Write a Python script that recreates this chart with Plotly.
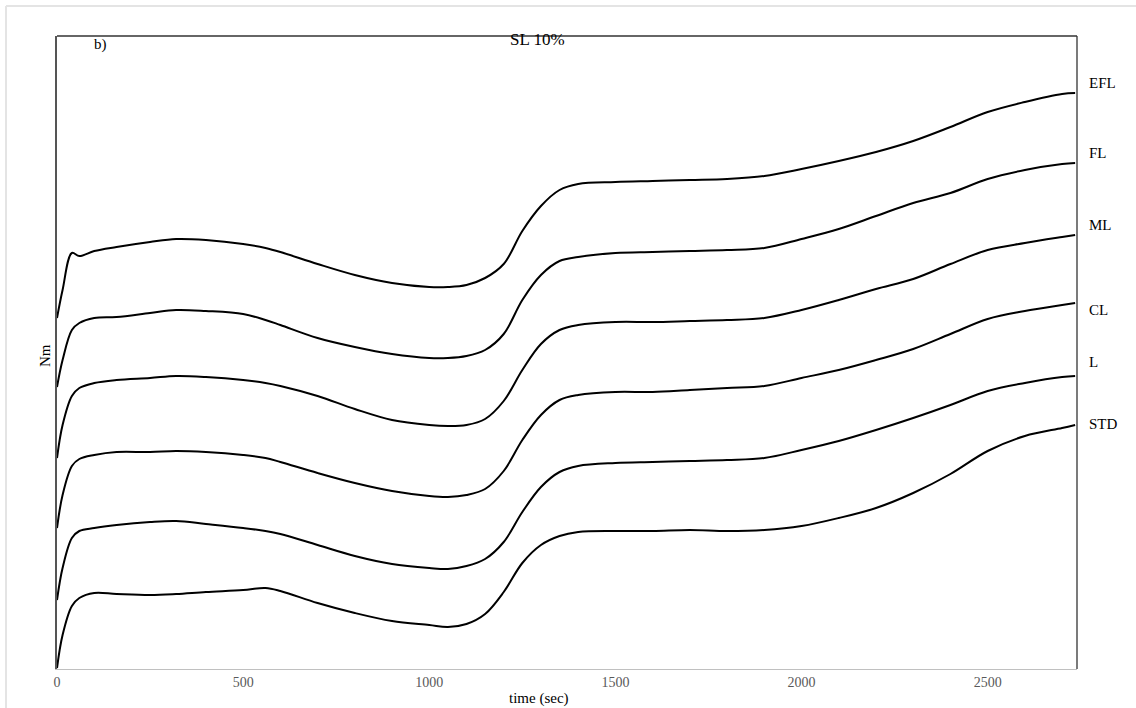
import plotly.graph_objects as go

time_s = [0, 15, 40, 60, 100, 160, 250, 320, 400, 500, 560, 600, 700, 800, 900, 1000, 1050, 1100,
          1150, 1200, 1250, 1300, 1350, 1400, 1500, 1600, 1700, 1800, 1900, 2000, 2100, 2200, 2300,
          2400, 2500, 2600, 2700, 2735]

EFL = [3.51, 3.79, 4.16, 4.13, 4.18, 4.22, 4.27, 4.30, 4.29, 4.25, 4.21, 4.17, 4.05, 3.94, 3.86, 3.82, 3.82, 3.84,
       3.91, 4.05, 4.38, 4.63, 4.79, 4.85, 4.87, 4.88, 4.89, 4.90, 4.93, 5.00, 5.08, 5.17, 5.28,
       5.42, 5.57, 5.67, 5.75, 5.76]
FL = [2.82, 3.09, 3.39, 3.46, 3.51, 3.52, 3.56, 3.59, 3.58, 3.55, 3.49, 3.44, 3.31, 3.22, 3.15, 3.11, 3.11, 3.13,
      3.19, 3.35, 3.69, 3.94, 4.08, 4.12, 4.16, 4.17, 4.18, 4.19, 4.21, 4.30, 4.40, 4.53, 4.66,
      4.76, 4.90, 4.99, 5.05, 5.06]
ML = [2.11, 2.44, 2.73, 2.81, 2.86, 2.89, 2.91, 2.93, 2.92, 2.89, 2.86, 2.83, 2.73, 2.60, 2.49, 2.44, 2.43, 2.44,
      2.50, 2.68, 2.99, 3.25, 3.39, 3.44, 3.47, 3.47, 3.48, 3.49, 3.51, 3.59, 3.69, 3.80, 3.90,
      4.05, 4.19, 4.26, 4.32, 4.34]
CL = [1.41, 1.74, 2.03, 2.10, 2.14, 2.17, 2.17, 2.18, 2.17, 2.14, 2.11, 2.07, 1.96, 1.86, 1.78, 1.73, 1.72, 1.74,
      1.80, 1.98, 2.29, 2.54, 2.69, 2.74, 2.77, 2.77, 2.79, 2.81, 2.83, 2.91, 2.99, 3.09, 3.20,
      3.35, 3.50, 3.58, 3.64, 3.66]
L = [0.69, 1.01, 1.31, 1.38, 1.41, 1.44, 1.47, 1.48, 1.45, 1.41, 1.38, 1.35, 1.24, 1.13, 1.05, 1.01, 1.00, 1.03,
     1.10, 1.27, 1.57, 1.82, 1.97, 2.03, 2.06, 2.07, 2.08, 2.09, 2.11, 2.19, 2.28, 2.39, 2.51,
     2.64, 2.78, 2.86, 2.92, 2.93]
STD = [0.01, 0.34, 0.63, 0.71, 0.76, 0.75, 0.74, 0.75, 0.77, 0.79, 0.81, 0.78, 0.66, 0.56, 0.48, 0.44, 0.42, 0.45,
       0.55, 0.77, 1.06, 1.24, 1.33, 1.37, 1.38, 1.38, 1.39, 1.38, 1.39, 1.43, 1.51, 1.61, 1.76,
       1.95, 2.18, 2.33, 2.41, 2.44]

series_names = ["EFL", "FL", "ML", "CL", "L", "STD"]
series_values = [EFL, FL, ML, CL, L, STD]
label_y = [0.9258, 0.8152, 0.7014, 0.5671, 0.4850, 0.3870]
x_ticks = [0, 500, 1000, 1500, 2000, 2500]

FONT = "Liberation Serif, Times New Roman, serif"

fig = go.Figure()
for name, vals in zip(series_names, series_values):
    fig.add_trace(go.Scatter(x=time_s, y=vals, mode="lines", name=name,
                             line=dict(color="black", width=2, shape="spline", smoothing=1.0),
                             showlegend=False, hoverinfo="skip"))

annotations = []
for name, ly in zip(series_names, label_y):
    annotations.append(dict(text=name, xref="paper", yref="paper", x=1.0098, y=ly,
                            xanchor="left", yanchor="middle", showarrow=False,
                            font=dict(family=FONT, size=15, color="black")))
annotations += [
    dict(text="SL 10%", xref="paper", yref="paper", x=0.4706, y=0.9937, xanchor="center",
         yanchor="middle", showarrow=False, font=dict(family=FONT, size=17, color="black")),
    dict(text="b)", xref="paper", yref="paper", x=0.043, y=0.986, xanchor="center",
         yanchor="middle", showarrow=False, font=dict(family=FONT, size=15, color="black")),
    dict(text="time (sec)", xref="paper", yref="paper", x=0.4725, y=-0.047, xanchor="center",
         yanchor="middle", showarrow=False, font=dict(family=FONT, size=15, color="black")),
    dict(text="Nm", xref="paper", yref="paper", x=-0.0118, y=0.496, xanchor="center",
         yanchor="middle", showarrow=False, textangle=-90,
         font=dict(family=FONT, size=15, color="black")),
]

shapes = [
    dict(type="line", xref="paper", yref="paper", x0=0, x1=1, y0=1, y1=1,
         line=dict(color="#333333", width=1.3)),
    dict(type="line", xref="paper", yref="paper", x0=1, x1=1, y0=0, y1=1,
         line=dict(color="#333333", width=1.3)),
    dict(type="line", xref="paper", yref="paper", x0=-0.05, x1=1.06, y0=1.0474, y1=1.0474,
         line=dict(color="#e4e4e4", width=2)),
    dict(type="line", xref="paper", yref="paper", x0=-0.05, x1=-0.05, y0=-0.07, y1=1.0474,
         line=dict(color="#e4e4e4", width=2)),
]

fig.update_layout(
    width=1136, height=708,
    margin=dict(l=57, r=59, t=36, b=39),
    paper_bgcolor="white", plot_bgcolor="white",
    annotations=annotations, shapes=shapes,
    xaxis=dict(range=[0, 2740], tickvals=x_ticks, showgrid=False, zeroline=False,
               showline=True, linecolor="#c0c0c0", linewidth=1.3, ticks="",
               tickfont=dict(family=FONT, size=14, color="#595959")),
    yaxis=dict(range=[0, 6.33], showgrid=False, zeroline=False, showticklabels=False,
               showline=True, linecolor="#555555", linewidth=1.5, ticks=""),
)

fig.write_html("out.html", config={"displayModeBar": False},
               post_script="document.body.style.margin='0px';document.body.style.overflow='hidden';")
